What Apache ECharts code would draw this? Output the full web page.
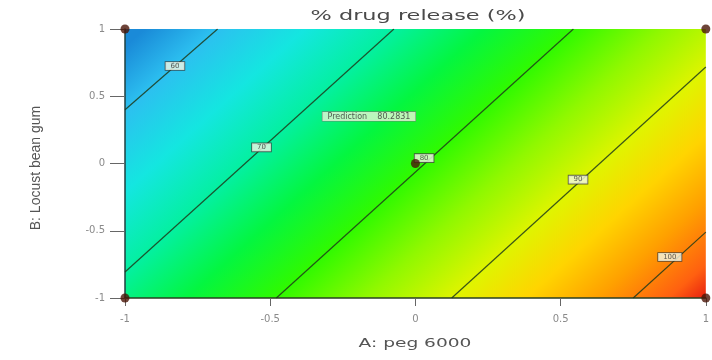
<!DOCTYPE html>
<html>
<head>
<meta charset="utf-8">
<script src="https://cdn.jsdelivr.net/npm/echarts@6/dist/echarts.min.js"></script>
<style>html,body{margin:0;padding:0;background:#fff;}#c{width:712px;height:360px;}</style>
</head>
<body>
<div id="c"></div>
<script>
// ---- data ----
const levels = [60, 70, 80, 90, 100];
const contourX = [[-1, -0.681], [-1, -0.074], [-0.479, 0.544], [0.125, 1], [0.75, 1]];
const contourY = [[0.40, 1], [-0.807, 1], [-1, 1], [-1, 0.717], [-1, -0.51]];
const labelX = [-0.828, -0.53, 0.03, 0.56, 0.876];
const labelY = [0.725, 0.12, 0.04, -0.12, -0.695];
const designX = [-1, -1, 1, 1, 0];
const designY = [-1, 1, 1, -1, 0];
const predictionValue = 80.2831;
const predictionX = [-0.16];
const predictionY = [0.35];
const colorValues = [56, 60, 65, 70, 75, 80, 85, 90, 94, 98, 102, 105];
const colorList = ['#1a8ad8', '#2cc0f0', '#14e6e0', '#04f0a0', '#04f640', '#30fa00', '#90f800', '#e0f400', '#ffd400', '#ffa000', '#ff6010', '#e82010'];
const axisTicks = [-1, -0.5, 0, 0.5, 1];

const chart = echarts.init(document.getElementById('c'));

function renderBg(params, api) {
  const tl = api.coord([-1, 1]);
  const br = api.coord([1, -1]);
  const corners = [tl, br, api.coord([-1, -1]), api.coord([1, 1])];
  const ends = levels.map((l, i) => [api.coord([contourX[i][0], contourY[i][0]]), api.coord([contourX[i][1], contourY[i][1]])]);
  const m = 2;
  let dx = ends[m][1][0] - ends[m][0][0], dy = ends[m][1][1] - ends[m][0][1];
  const len = Math.hypot(dx, dy);
  const n = [-dy / len, dx / len];
  const proj = p => p[0] * n[0] + p[1] * n[1];
  const mid = e => [(e[0][0] + e[1][0]) / 2, (e[0][1] + e[1][1]) / 2];
  const s0 = proj(mid(ends[0])), s4 = proj(mid(ends[4]));
  const k = (levels[4] - levels[0]) / (s4 - s0);
  const fOf = s => levels[0] + k * (s - s0);
  const ps = corners.map(proj);
  const smin = Math.min(...ps), smax = Math.max(...ps);
  const fmin = fOf(smin), fmax = fOf(smax);
  const stops = colorValues.map((v, i) => ({
    offset: Math.max(0, Math.min(1, (v - fmin) / (fmax - fmin))),
    color: colorList[i]
  }));
  const grad = new echarts.graphic.LinearGradient(n[0] * smin, n[1] * smin, n[0] * smax, n[1] * smax, stops, true);
  return {
    type: 'rect',
    shape: { x: tl[0], y: tl[1], width: br[0] - tl[0], height: br[1] - tl[1] },
    style: { fill: grad }
  };
}

const series = [{
  type: 'custom',
  renderItem: renderBg,
  data: [[0, 0]],
  z: 0,
  silent: true
}];
levels.forEach((l, i) => {
  series.push({
    type: 'line',
    data: [[contourX[i][0], contourY[i][0]], [contourX[i][1], contourY[i][1]]],
    showSymbol: false,
    lineStyle: { color: '#1f3a1a', width: 1.2, opacity: 0.85 },
    z: 2,
    silent: true
  });
});
series.push({
  type: 'scatter',
  data: levels.map((l, i) => [labelX[i], labelY[i], l]),
  symbolSize: 0,
  z: 5,
  label: {
    show: true, position: 'inside',
    formatter: p => String(p.value[2]),
    fontSize: 7, color: '#333', fontFamily: 'DejaVu Sans',
    backgroundColor: '#f2f8e6', borderColor: '#3a3a3a', borderWidth: 0.8,
    padding: [1, 5, 0, 5]
  }
});
series.push({
  type: 'scatter',
  data: [[predictionX[0], predictionY[0]]],
  symbolSize: 0,
  z: 5,
  label: {
    show: true, position: 'inside',
    formatter: 'Prediction    ' + predictionValue,
    fontSize: 8, color: '#333', fontFamily: 'DejaVu Sans',
    backgroundColor: '#eaf8d8', borderColor: '#777', borderWidth: 0.6,
    padding: [1, 5, 0, 5]
  }
});
series.push({
  type: 'scatter',
  data: designX.map((x, i) => [x, designY[i]]),
  symbol: 'circle',
  symbolSize: 9,
  itemStyle: { color: '#4a1508' },
  z: 6,
  silent: true
});

chart.setOption({
  animation: false,
  grid: { left: 125, right: 4, top: 29, bottom: 62 },
  xAxis: {
    type: 'value', min: -1, max: 1, interval: 0.5,
    axisLine: { show: true, onZero: false, lineStyle: { color: '#2a3f22', width: 1.5 } },
    axisTick: { show: true, length: 8, lineStyle: { color: '#666' } },
    axisLabel: { fontSize: 10, color: '#8a8a8a', margin: 16, fontFamily: 'DejaVu Sans',
      formatter: v => axisTicks.indexOf(v) >= 0 ? String(v) : '' },
    splitLine: { show: false }
  },
  yAxis: {
    type: 'value', min: -1, max: 1, interval: 0.5,
    axisLine: { show: true, onZero: false, lineStyle: { color: '#1f4040', width: 1.5 } },
    axisTick: { show: true, length: 15, lineStyle: { color: '#666' } },
    axisLabel: { fontSize: 10, color: '#8a8a8a', margin: 20, fontFamily: 'DejaVu Sans',
      formatter: v => axisTicks.indexOf(v) >= 0 ? String(v) : '' },
    splitLine: { show: false }
  },
  graphic: [
    { type: 'text', x: 418, y: 16, scaleX: 1.6, z: 10,
      style: { text: '% drug release (%)', font: '14px "DejaVu Sans"', fill: '#4a4a4a', textAlign: 'center', textVerticalAlign: 'middle' } },
    { type: 'text', x: 415, y: 344, scaleX: 1.55, z: 10,
      style: { text: 'A: peg 6000', font: '12px "DejaVu Sans"', fill: '#555', textAlign: 'center', textVerticalAlign: 'middle' } },
    { type: 'text', x: 36, y: 168, rotation: Math.PI / 2, z: 10,
      style: { text: 'B: Locust bean gum', font: '14px "Liberation Sans Narrow", "Liberation Sans"', fill: '#555', textAlign: 'center', textVerticalAlign: 'middle' } }
  ],
  series: series
});
</script>
</body>
</html>
